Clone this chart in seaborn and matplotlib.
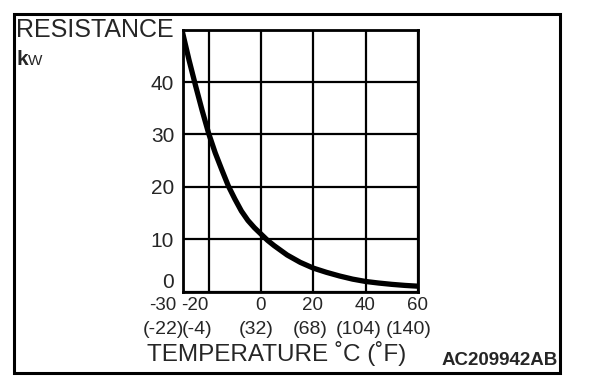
import numpy as np
import pandas as pd
import matplotlib
matplotlib.use("Agg")
import matplotlib.pyplot as plt
import matplotlib.transforms as mtransforms
from matplotlib.patches import Rectangle
import seaborn as sns

# Values (temperature in C, resistance in k-ohm)
temp_c = [-30, -27.5, -25, -22.5, -20, -17.5, -15, -12.5, -10, -7.5, -5, -2.5, 0,
          2.5, 5, 7.5, 10, 15, 20, 25, 30, 35, 40, 45, 50, 55, 60]
resistance = [49.5, 44.2, 39.3, 34.6, 30.2, 26.5, 23.3, 20.2, 17.7, 15.4, 13.6, 12.2, 11.0,
              9.8, 8.8, 7.9, 7.0, 5.6, 4.5, 3.7, 3.0, 2.4, 1.95, 1.65, 1.4, 1.2, 1.05]

x_ticks = [-30, -20, 0, 20, 40, 60]
x_labels = ["-30", "-20", "0", "20", "40", "60"]
f_labels = ["(-22)", "(-4)", "(32)", "(68)", "(104)", "(140)"]
y_ticks = [0, 10, 20, 30, 40]
y_labels = ["0", "10", "20", "30", "40"]

df = pd.DataFrame({"temp": temp_c, "res": resistance})

sns.set_style("white")
plt.rcParams['font.family'] = ['Liberation Sans', 'DejaVu Sans']

W, H = 608, 390
fig = plt.figure(figsize=(W / 100, H / 100), dpi=100)
ax = fig.add_axes([182.5 / W, 1 - 291.7 / H, 235.5 / W, 262 / H])

sns.lineplot(data=df, x="temp", y="res", ax=ax, color="black", linewidth=3.8)

ax.set_xlim(-30, 60)
ax.set_ylim(0, 50)
ax.set_xticks(x_ticks)
ax.set_xticklabels([])
ax.set_yticks(y_ticks + [50])
ax.set_yticklabels(y_labels + [""], fontsize=15)
ax.tick_params(length=0, pad=6)
ax.grid(True, color="black", linewidth=1.6)
ax.set_axisbelow(True)
for s in ax.spines.values():
    s.set_color("black")
    s.set_linewidth(2)
ax.set_xlabel("")
ax.set_ylabel("")
# the "0" label sits just above the axis bottom
ax.get_yticklabels()[0].set_verticalalignment("bottom")

# x labels with small pixel shifts as in the drawing
c_shift = [-19.5, -14, 0, -1, -1, -1]
f_shift = [-19, -12, -4.5, -3.5, -6.5, -9]
trans = ax.get_xaxis_transform()
for xv, lab, dx in zip(x_ticks, x_labels, c_shift):
    t = trans + mtransforms.ScaledTranslation(dx / 100, -18.3 / 100, fig.dpi_scale_trans)
    ax.text(xv, 0, lab, transform=t, ha="center", va="baseline", fontsize=13.5)
for xv, lab, dx in zip(x_ticks, f_labels, f_shift):
    t = trans + mtransforms.ScaledTranslation(dx / 100, -42.3 / 100, fig.dpi_scale_trans)
    ax.text(xv, 0, lab, transform=t, ha="center", va="baseline", fontsize=14)

fig.text(16 / W, 1 - 37 / H, "RESISTANCE", fontsize=18, ha="left", va="baseline")
fig.text(17 / W, 1 - 65 / H, "k", fontsize=15, fontweight="bold", ha="left", va="baseline")
fig.text(28 / W, 1 - 65 / H, "W", fontsize=11, ha="left", va="baseline")
fig.text(277 / W, 1 - 361 / H, "TEMPERATURE \u02daC (\u02daF)", fontsize=17.5,
         ha="center", va="baseline")
fig.text(558 / W, 1 - 365 / H, "AC209942AB", fontsize=13.5, fontweight="bold",
         ha="right", va="baseline")

fig.patches.append(Rectangle((13.5 / W, 1 - 373 / H), 546 / W, 359.5 / H,
                             transform=fig.transFigure, fill=False,
                             edgecolor="black", linewidth=2.2))

fig.savefig("out.png", dpi=100)
